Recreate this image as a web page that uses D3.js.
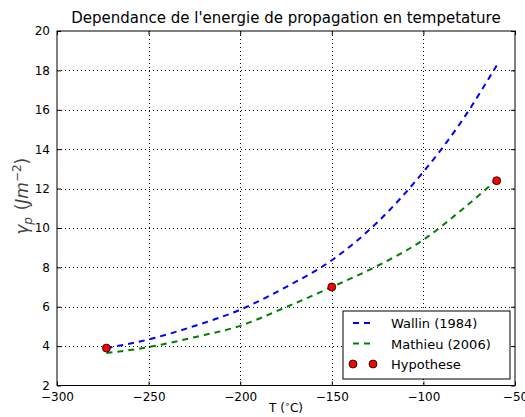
<!DOCTYPE html>
<html>
<head>
<meta charset="utf-8">
<script src="https://cdn.jsdelivr.net/npm/d3@7"></script>
<style>
  html, body { margin: 0; padding: 0; background: #fff; }
  svg { display: block; }
  text { font-family: "DejaVu Sans", sans-serif; }
</style>
</head>
<body>
<svg id="chart" width="525" height="417"></svg>
<script>
// Temperatures (°C) at which each model curve is sampled
const temps = [-273, -250, -225, -200, -175, -150, -125, -100, -80, -60];
// Propagation energy γp (J m^-2), Wallin (1984)
const wallin = [3.9, 4.34, 5.02, 5.85, 7.0, 8.36, 10.3, 12.85, 15.3, 18.25];
// Propagation energy γp (J m^-2), Mathieu (2006)
const mathieu = [3.65, 3.95, 4.45, 5.03, 5.98, 7.0, 8.08, 9.4, 10.85, 12.45];
// Hypothesis points
const hypoT = [-273, -150, -60];
const hypoG = [3.9, 7.0, 12.4];

const xTicks = [-300, -250, -200, -150, -100, -50];
const yTicks = [2, 4, 6, 8, 10, 12, 14, 16, 18, 20];

const margin = { left: 57, right: 10, top: 31, bottom: 31.5 };
const W = 525, H = 417;
const x = d3.scaleLinear().domain([-300, -50]).range([margin.left, W - margin.right]);
const y = d3.scaleLinear().domain([2, 20]).range([H - margin.bottom, margin.top]);

const svg = d3.select("#chart");
const fmt = d => String(d).replace("-", "\u2212");

// dotted grid
const grid = svg.append("g").attr("stroke", "#000").attr("stroke-width", 1)
  .attr("stroke-dasharray", "1,3").attr("shape-rendering", "crispEdges");
xTicks.slice(1, -1).forEach(t => grid.append("line")
  .attr("x1", Math.round(x(t)) + 0.5).attr("x2", Math.round(x(t)) + 0.5)
  .attr("y1", y(20)).attr("y2", y(2)));
yTicks.slice(1, -1).forEach(t => grid.append("line")
  .attr("y1", Math.round(y(t)) + 0.5).attr("y2", Math.round(y(t)) + 0.5)
  .attr("x1", x(-300)).attr("x2", x(-50)));

// axes with inward ticks on all sides
const tickLen = 4;
const axBottom = d3.axisBottom(x).tickValues(xTicks).tickSizeInner(-tickLen).tickSizeOuter(0).tickPadding(7).tickFormat(fmt);
const axTop = d3.axisTop(x).tickValues(xTicks).tickSizeInner(-tickLen).tickSizeOuter(0).tickFormat("");
const axLeft = d3.axisLeft(y).tickValues(yTicks).tickSizeInner(-tickLen).tickSizeOuter(0).tickPadding(7).tickFormat(d => d);
const axRight = d3.axisRight(y).tickValues(yTicks).tickSizeInner(-tickLen).tickSizeOuter(0).tickFormat("");

function styleAxis(g) {
  g.select(".domain").remove();
  g.selectAll(".tick line").attr("stroke", "#000").attr("stroke-width", 1);
  g.selectAll(".tick text").attr("font-size", 12).attr("fill", "#000")
    .attr("font-family", "DejaVu Sans, sans-serif");
}
svg.append("g").attr("transform", `translate(0,${y(2)})`).call(axBottom).call(styleAxis);
svg.append("g").attr("transform", `translate(0,${y(20)})`).call(axTop).call(styleAxis);
svg.append("g").attr("transform", `translate(${x(-300)},0)`).call(axLeft).call(styleAxis);
svg.append("g").attr("transform", `translate(${x(-50)},0)`).call(axRight).call(styleAxis);

// frame
svg.append("rect").attr("x", x(-300)).attr("y", y(20))
  .attr("width", x(-50) - x(-300)).attr("height", y(2) - y(20))
  .attr("fill", "none").attr("stroke", "#000").attr("stroke-width", 1);

// model curves
const line = d3.line().x(d => x(d[0])).y(d => y(d[1])).curve(d3.curveMonotoneX);
const series = [
  { name: "Wallin (1984)", vals: wallin, color: "#0000ff" },
  { name: "Mathieu (2006)", vals: mathieu, color: "#008000" }
];
series.forEach(s => {
  svg.append("path").datum(temps.map((t, i) => [t, s.vals[i]]))
    .attr("d", line).attr("fill", "none").attr("stroke", s.color)
    .attr("stroke-width", 2).attr("stroke-dasharray", "6,5");
});

// hypothesis markers
svg.append("g").selectAll("circle").data(hypoT.map((t, i) => [t, hypoG[i]]))
  .join("circle").attr("cx", d => x(d[0])).attr("cy", d => y(d[1])).attr("r", 4)
  .attr("fill", "#ff0000").attr("stroke", "#000").attr("stroke-width", 0.8);

// title
svg.append("text").attr("x", (x(-300) + x(-50)) / 2).attr("y", 23)
  .attr("text-anchor", "middle").attr("font-size", 15).text("Dependance de l'energie de propagation en tempetature");

// axis labels
const xl = svg.append("text").attr("x", (x(-300) + x(-50)) / 2).attr("y", 412)
  .attr("text-anchor", "middle").attr("font-size", 12);
xl.append("tspan").text("T (");
xl.append("tspan").attr("font-size", 8).attr("dy", -5).text("\u2218");
xl.append("tspan").attr("dy", 5).text("C)");

const yl = svg.append("text").attr("transform", `translate(28,${(y(2) + y(20)) / 2 - 12}) rotate(-90)`)
  .attr("text-anchor", "middle").attr("font-size", 17).attr("fill", "#444")
  .attr("font-family", "Liberation Serif, serif").attr("font-style", "italic");
yl.append("tspan").text("\u03b3");
yl.append("tspan").attr("font-size", 12).attr("dy", 4).text("p");
yl.append("tspan").attr("dy", -4).attr("font-style", "normal").text("\u2009\u2009(");
yl.append("tspan").text("Jm");
yl.append("tspan").attr("font-size", 12).attr("dy", -7).attr("font-style", "normal").text("\u22122");
yl.append("tspan").attr("dy", 7).attr("font-style", "normal").text(")");

// legend
const lg = svg.append("g");
lg.append("rect").attr("x", 343).attr("y", 311).attr("width", 167).attr("height", 68)
  .attr("fill", "#fff").attr("stroke", "#000").attr("stroke-width", 1);
const rows = [323, 343.5, 364];
series.forEach((s, i) => {
  lg.append("line").attr("x1", 353).attr("x2", 373).attr("y1", rows[i]).attr("y2", rows[i])
    .attr("stroke", s.color).attr("stroke-width", 2).attr("stroke-dasharray", "6,5");
  lg.append("text").attr("x", 391).attr("y", rows[i] + 5).attr("font-size", 13).text(s.name);
});
[353, 373].forEach(cx => lg.append("circle").attr("cx", cx).attr("cy", rows[2]).attr("r", 4)
  .attr("fill", "#ff0000").attr("stroke", "#000").attr("stroke-width", 0.8));
lg.append("text").attr("x", 391).attr("y", rows[2] + 5).attr("font-size", 13).text("Hypothese");
</script>
</body>
</html>
